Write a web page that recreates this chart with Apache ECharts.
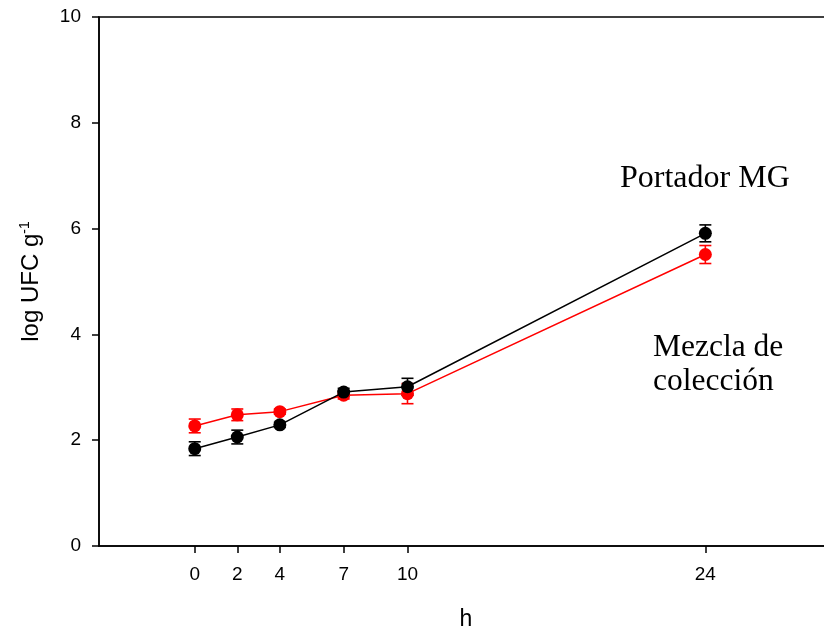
<!DOCTYPE html>
<html>
<head>
<meta charset="utf-8">
<script src="https://cdn.jsdelivr.net/npm/echarts@6/dist/echarts.min.js"></script>
<style>html,body{margin:0;padding:0;background:#fff;}#c{width:824px;height:629px;}</style>
</head>
<body>
<div id="c"></div>
<script>
const hours = [0, 2, 4, 7, 10, 24];
const xTicks = [0, 2, 4, 7, 10, 24];
const blackMean = [1.84, 2.06, 2.29, 2.91, 3.01, 5.91];
const blackErr  = [0.13, 0.13, 0.05, 0.07, 0.16, 0.16];
const redMean   = [2.27, 2.48, 2.54, 2.85, 2.88, 5.51];
const redErr    = [0.13, 0.11, 0.05, 0.07, 0.19, 0.17];
const labelTop = 'Portador MG';
const labelBottom = ['Mezcla de', 'colección'];

function pairs(xs, ys) { return xs.map((x, i) => [x, ys[i]]); }
function errData(xs, ys, es) { return xs.map((x, i) => [x, ys[i] - es[i], ys[i] + es[i]]); }

function errSeries(data, color) {
  return {
    type: 'custom',
    data: data,
    z: 3,
    renderItem: function (params, api) {
      const x = api.value(0);
      const lo = api.coord([x, api.value(1)]);
      const hi = api.coord([x, api.value(2)]);
      const hw = 6;
      const st = { stroke: color, lineWidth: 1.6 };
      return {
        type: 'group',
        children: [
          { type: 'line', shape: { x1: lo[0], y1: lo[1], x2: hi[0], y2: hi[1] }, style: st },
          { type: 'line', shape: { x1: lo[0] - hw, y1: lo[1], x2: lo[0] + hw, y2: lo[1] }, style: st },
          { type: 'line', shape: { x1: hi[0] - hw, y1: hi[1], x2: hi[0] + hw, y2: hi[1] }, style: st }
        ]
      };
    },
    encode: { x: 0, y: [1, 2] },
    silent: true
  };
}

function lineSeries(data, color, z) {
  return {
    type: 'line',
    data: data,
    z: z,
    symbol: 'circle',
    symbolSize: 13,
    lineStyle: { color: color, width: 1.5 },
    itemStyle: { color: color },
    animation: false
  };
}

const chart = echarts.init(document.getElementById('c'), null, { renderer: 'canvas' });
chart.setOption({
  animation: false,
  backgroundColor: '#fff',
  grid: { left: 99, top: 17, width: 734, height: 529, containLabel: false, outerBoundsMode: 'none', show: true, borderColor: '#000', borderWidth: 1.5, backgroundColor: 'transparent' },
  xAxis: {
    type: 'value', min: -4.5, max: 30,
    name: 'h', nameLocation: 'middle', nameGap: 62,
    nameTextStyle: { fontFamily: 'Liberation Sans', fontSize: 23, color: '#000' },
    axisLine: { show: true, onZero: false, lineStyle: { color: '#000', width: 1.5 } },
    axisTick: { show: true, customValues: xTicks, length: 7, lineStyle: { color: '#000', width: 1.5 } },
    axisLabel: { customValues: xTicks, margin: 19, fontFamily: 'Liberation Sans', fontSize: 19, color: '#000' },
    splitLine: { show: false }
  },
  yAxis: {
    type: 'value', min: 0, max: 10, interval: 2,
    name: '{a|log UFC g}{s|-1}', nameLocation: 'middle', nameGap: 55, nameRotate: 90,
    nameTextStyle: { rich: {
      a: { fontFamily: 'Liberation Sans', fontSize: 24, color: '#000' },
      s: { fontFamily: 'Liberation Sans', fontSize: 14, color: '#000', verticalAlign: 'top', padding: [0, 0, 12, 0] }
    } },
    axisLine: { show: true, onZero: false, lineStyle: { color: '#000', width: 1.5 } },
    axisTick: { show: true, length: 7, lineStyle: { color: '#000', width: 1.5 } },
    axisLabel: { margin: 18, fontFamily: 'Liberation Sans', fontSize: 19, color: '#000' },
    splitLine: { show: false }
  },
  graphic: [
    { type: 'text', left: 620, top: 163, style: { text: labelTop, font: '32px "Liberation Serif"', fill: '#000' } },
    { type: 'text', left: 653, top: 331, style: { text: labelBottom.join('\n'), font: '31.5px "Liberation Serif"', lineHeight: 34, fill: '#000' } }
  ],
  series: [
    errSeries(errData(hours, redMean, redErr), '#ff0000'),
    lineSeries(pairs(hours, redMean), '#ff0000', 4),
    errSeries(errData(hours, blackMean, blackErr), '#000000'),
    lineSeries(pairs(hours, blackMean), '#000000', 5)
  ]
});
</script>
</body>
</html>
